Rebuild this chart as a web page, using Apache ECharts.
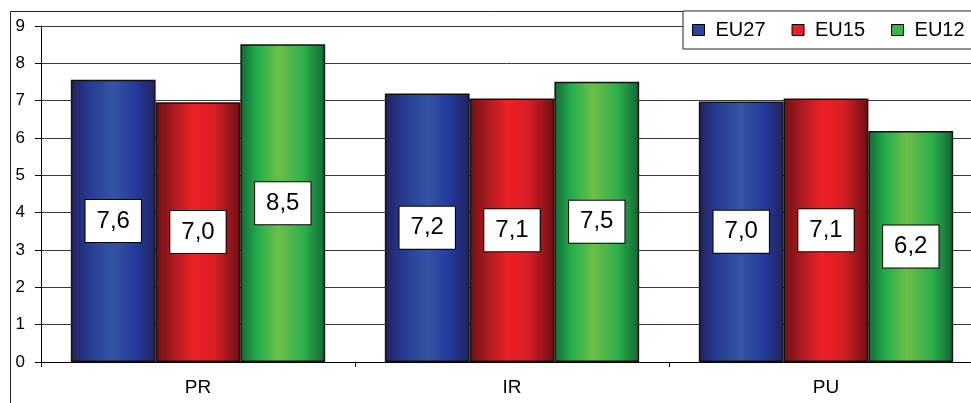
<!DOCTYPE html>
<html>
<head>
<meta charset="utf-8">
<script src="https://cdn.jsdelivr.net/npm/echarts@6/dist/echarts.min.js"></script>
<style>
html,body{margin:0;padding:0;background:#fff;}
#chart{width:971px;height:403px;}
</style>
</head>
<body>
<div id="chart"></div>
<script>
var categories = ['PR', 'IR', 'PU'];
var seriesNames = ['EU27', 'EU15', 'EU12'];
var eu27 = [7.56, 7.19, 6.98];
var eu15 = [6.96, 7.06, 7.06];
var eu12 = [8.51, 7.51, 6.19];
var yTicks = [0, 1, 2, 3, 4, 5, 6, 7, 8, 9];

function grad(stops) {
  return new echarts.graphic.LinearGradient(0, 0, 1, 0, stops.map(function (c) {
    return { offset: c[0], color: c[1] };
  }));
}
var fills = [
  grad([[0, '#22215a'], [0.2, '#253a92'], [0.5, '#3554a4'], [0.78, '#23399a'], [1, '#22225c']]),
  grad([[0, '#6e1014'], [0.25, '#b81c22'], [0.45, '#ee2027'], [0.7, '#d81f26'], [1, '#6a1012']]),
  grad([[0, '#136a36'], [0.2, '#22ae4a'], [0.45, '#6cbf47'], [0.75, '#2cb04c'], [1, '#116634']])
];
var legendColors = ['#2b43a0', '#e41e25', '#3db44a'];
var dataSets = [eu27, eu15, eu12];

var chart = echarts.init(document.getElementById('chart'), null, { renderer: 'canvas' });
var font = 'Arial, "Liberation Sans", sans-serif';

var option = {
  animation: false,
  backgroundColor: '#fff',
  graphic: [{
    type: 'rect',
    shape: { x: 10.5, y: 11.5, width: 1000, height: 420 },
    style: { fill: 'none', stroke: '#222', lineWidth: 1 },
    z: -1
  }],
  grid: { left: 41, top: 26, width: 942, bottom: 41, outerBoundsMode: 'none', containLabel: false },
  legend: {
    left: 683, top: 11,
    width: 400,
    orient: 'horizontal',
    padding: [9, 40, 9, 9],
    itemGap: 26,
    itemWidth: 12, itemHeight: 11,
    backgroundColor: '#fff',
    borderColor: '#222', borderWidth: 1,
    textStyle: { fontSize: 20, fontFamily: font, color: '#000', padding: [0, 0, 0, 6] },
    data: seriesNames.map(function (n, i) {
      return { name: n, icon: 'rect', itemStyle: { color: legendColors[i], borderColor: '#000', borderWidth: 1 } };
    })
  },
  xAxis: {
    type: 'category',
    data: categories,
    axisLine: { show: true, lineStyle: { color: '#000', width: 1 } },
    axisTick: { show: true, length: 5, lineStyle: { color: '#000' } },
    axisLabel: { fontSize: 19, fontFamily: font, color: '#000', margin: 16 },
    splitLine: { show: false }
  },
  yAxis: {
    type: 'value',
    min: yTicks[0], max: yTicks[yTicks.length - 1], interval: 1,
    axisLine: { show: true, lineStyle: { color: '#000', width: 1 } },
    axisTick: { show: true, length: 6, lineStyle: { color: '#000' } },
    axisLabel: { fontSize: 17, fontFamily: font, color: '#000', margin: 16 },
    splitLine: { show: true, lineStyle: { color: '#3a3a3a', width: 1 } }
  },
  series: seriesNames.map(function (n, i) {
    return {
      name: n,
      type: 'bar',
      data: dataSets[i],
      barGap: '0%',
      barCategoryGap: '19%',
      itemStyle: { color: fills[i], borderColor: '#111', borderWidth: 1.5 },
      label: {
        show: true,
        position: 'inside',
        formatter: function (p) { return p.value.toFixed(1).replace('.', ','); },
        fontSize: 24,
        fontFamily: font,
        color: '#000',
        backgroundColor: '#fff',
        borderColor: '#000',
        borderWidth: 1,
        padding: [10, 11, 8, 11]
      }
    };
  })
};
chart.setOption(option);
</script>
</body>
</html>
